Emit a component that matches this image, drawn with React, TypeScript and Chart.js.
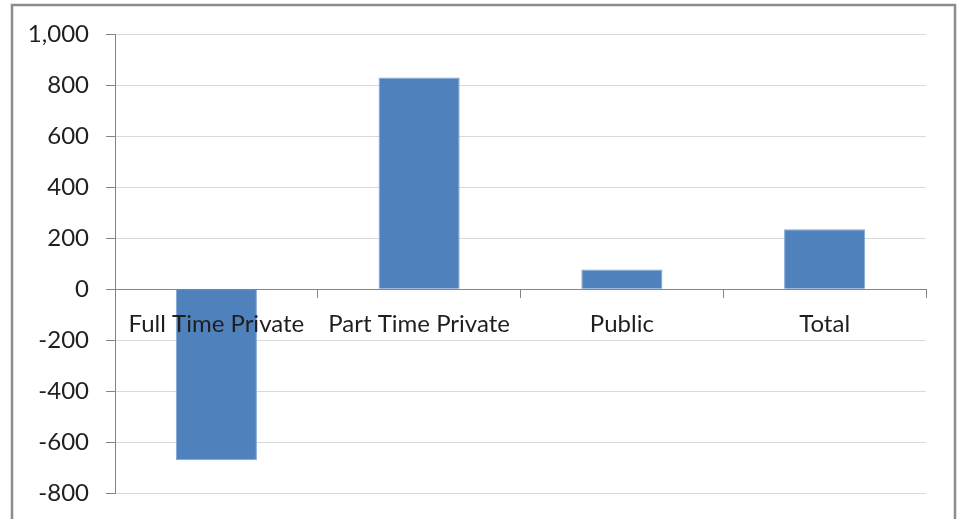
import React, { useEffect, useRef } from "react";
import { Chart, registerables } from "chart.js";

Chart.register(...registerables);

const categories = ["Full Time Private", "Part Time Private", "Public", "Total"];
const values = [-670, 830, 77, 235];
const yTicks = [-800, -600, -400, -200, 0, 200, 400, 600, 800, 1000];

const FONT = "Lato, 'Open Sans', sans-serif";

const framePlugin = {
  id: "frame",
  beforeDraw(chart: any) {
    const ctx = chart.ctx;
    ctx.save();
    ctx.fillStyle = "#ffffff";
    ctx.fillRect(0, 0, chart.width, chart.height);
    ctx.strokeStyle = "#8c8c8c";
    ctx.lineWidth = 2.5;
    ctx.strokeRect(12, 5, 943, 530);
    ctx.restore();
  },
};

export default function App() {
  const ref = useRef<HTMLCanvasElement>(null);

  useEffect(() => {
    document.body.style.margin = "0";
    const chart = new Chart(ref.current!, {
      type: "bar",
      data: {
        labels: categories,
        datasets: [
          {
            data: values,
            backgroundColor: "#4F81BD",
            borderColor: "#7FA6D6",
            borderWidth: 1,
            barPercentage: 0.4,
            categoryPercentage: 1,
          },
        ],
      },
      options: {
        animation: false,
        responsive: false,
        layout: { padding: { left: 0, right: 34, top: 34, bottom: 25.7 } },
        plugins: { legend: { display: false }, tooltip: { enabled: false } },
        scales: {
          x: {
            position: { y: 0 } as any,
            grid: {
              offset: true,
              drawOnChartArea: false,
              drawTicks: true,
              tickLength: 8,
              color: "#868686",
            },
            border: { color: "#868686", width: 1 },
            ticks: {
              z: 1,
              color: "#1f1f1f",
              font: { family: FONT, size: 24 },
              padding: 13,
              maxRotation: 0,
              autoSkip: false,
            },
          },
          y: {
            min: -800,
            max: 1000,
            afterBuildTicks(axis: any) {
              axis.ticks = yTicks.map((v) => ({ value: v }));
            },
            afterFit(axis: any) {
              axis.width = 115;
              axis.paddingTop = 0;
              axis.paddingBottom = 0;
            },
            grid: {
              color: "#d9d9d9",
              tickColor: "#868686",
              tickLength: 9,
            },
            border: { color: "#868686", width: 1 },
            ticks: {
              color: "#1f1f1f",
              font: { family: FONT, size: 24 },
              padding: 17,
              callback: (v: any) => Number(v).toLocaleString("en-US"),
            },
          },
        },
      },
      plugins: [framePlugin],
    });
    return () => chart.destroy();
  }, []);

  return (
    <div style={{ position: "fixed", left: 0, top: 0, width: 960, height: 519 }}>
      <canvas ref={ref} width={960} height={519} />
    </div>
  );
}
